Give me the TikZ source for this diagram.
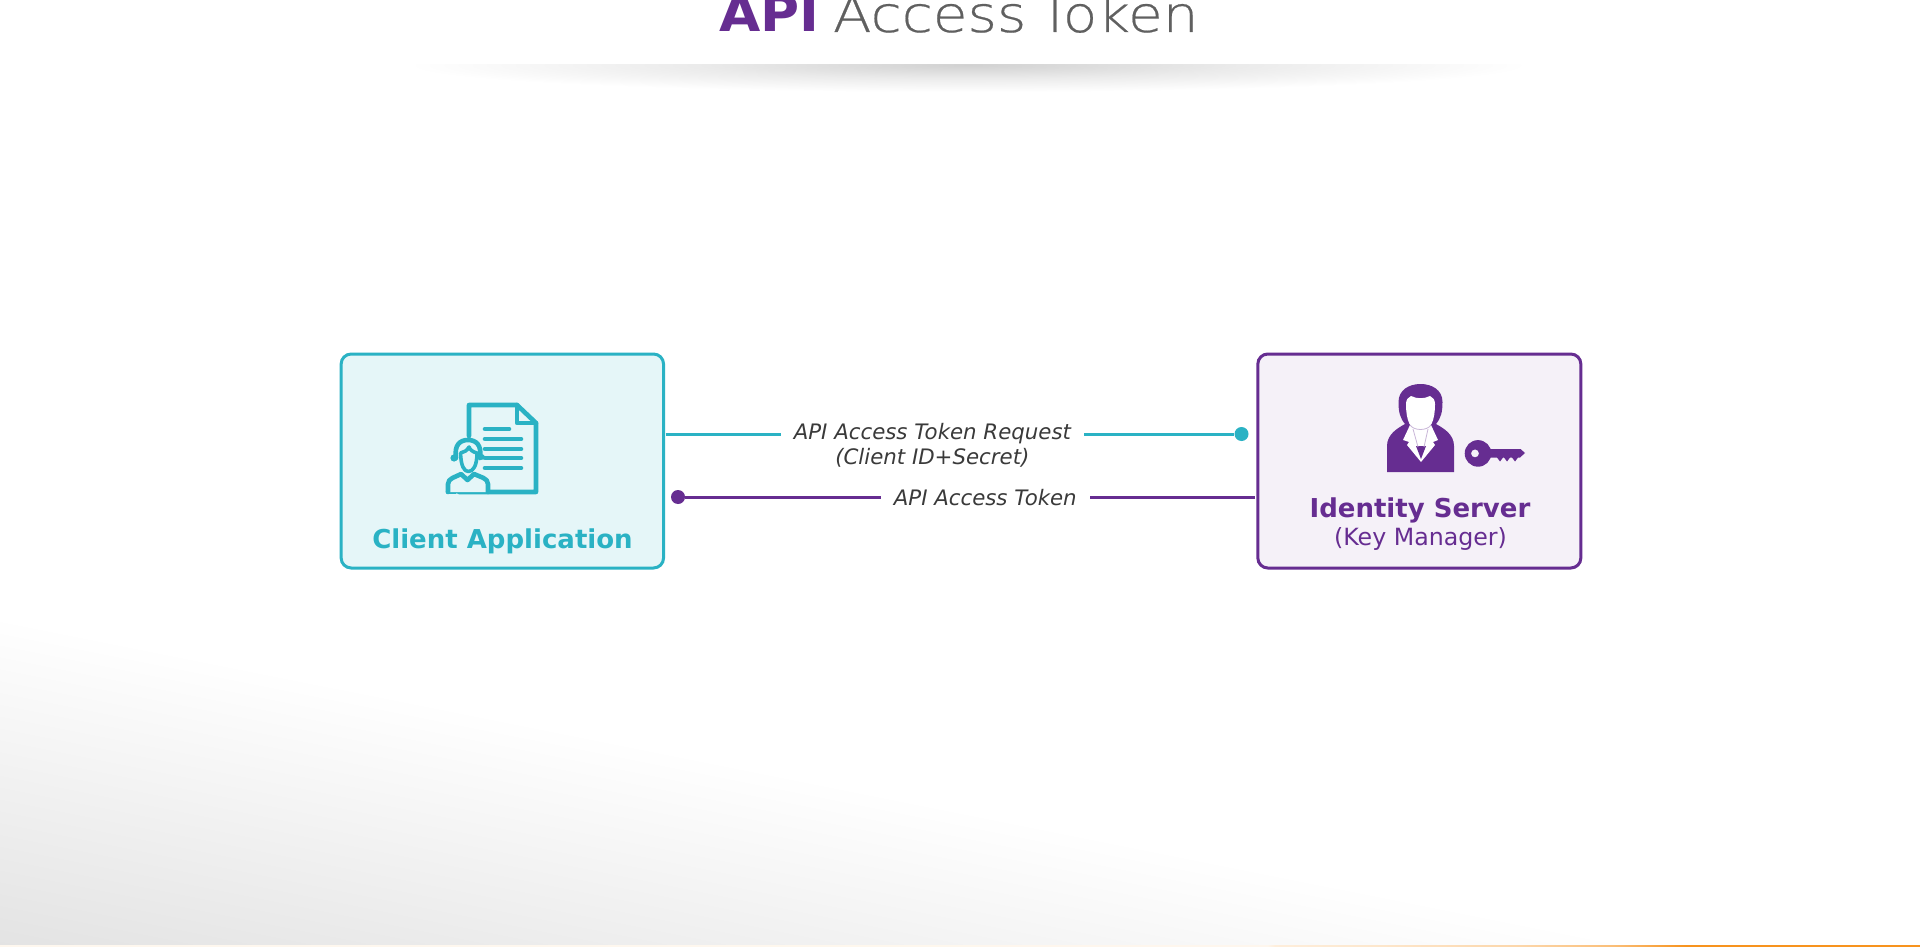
\documentclass[tikz,border=0pt]{standalone}
\usepackage{fontspec}
\setmainfont{DejaVu Sans}
\newfontfamily\titlefont[FakeStretch=1.067]{DejaVu Sans}
\newfontfamily\thinfont[FakeStretch=1.13,FakeBold=0.4]{DejaVu Sans ExtraLight}
\usetikzlibrary{matrix,positioning}
\definecolor{appteal}{HTML}{2AB2C4}
\definecolor{apppurple}{HTML}{662D91}
\definecolor{appink}{HTML}{3A3A3A}
\definecolor{appgray}{HTML}{606060}
\definecolor{appcorner}{HTML}{E3E3E3}
\definecolor{apporange}{HTML}{F7931E}
\pgfdeclareradialshading{titleshadow}{\pgfpoint{0bp}{0bp}}{
  color(0bp)=(black!18); color(12bp)=(black!8); color(25bp)=(white); color(100bp)=(white)}
\pgfdeclarehorizontalshading{footstrip}{100bp}{
  color(0bp)=(apporange!7); color(58bp)=(apporange!8); color(58.2bp)=(apporange!16);
  color(60.7bp)=(apporange!22); color(64.6bp)=(apporange!38); color(67bp)=(apporange!60);
  color(68.9bp)=(apporange); color(100bp)=(apporange)}
\tikzset{
  reqline/.style={appteal, line width=3pt, shorten <=2pt},
  tokline/.style={apppurple, line width=3pt, shorten >=3pt},
  flowdot/.style={circle, inner sep=0pt, minimum size=14pt},
  flowlabel/.style={fill=white, text=appink, inner xsep=13pt, inner ysep=0pt, align=center,
    font=\fontsize{21.3}{25}\selectfont\itshape},
  boxname/.style={inner sep=0pt, anchor=base, font=\fontsize{26}{30}\selectfont\bfseries},
  iconline/.style={appteal, line width=4.6pt, line cap=round, line join=round}
}
\begin{document}
\begin{tikzpicture}[x=1pt,y=-1pt]
\useasboundingbox (0,0) rectangle (1920,947);
\clip (0,0) rectangle (1920,947);
\fill[white] (0,0) rectangle (1920,947);
% grey corner and the orange foot line
\shade[bottom color=appcorner, top color=white, transform canvas={rotate around={-11.3:(0,947)}}]
  (-200,622) rectangle (2300,947);
\shade[shading=footstrip] (0,945.3) rectangle (1920,947);
% shadow under the title
\begin{scope}
  \clip (300,65) rectangle (1620,100);
  \shade[shading=titleshadow] (968,65) ellipse (560 and 27);
\end{scope}
\node[inner sep=0pt, anchor=base west, font=\fontsize{50}{60}\selectfont] (title) at (719,32)
  {\textcolor{apppurple}{\titlefont\bfseries API} \hspace{-2.4pt}\textcolor{appgray}{\thinfont Access\hspace{-6.5pt} Token}};
\matrix (m) [matrix of nodes,
    column sep=591.3pt,
    nodes={draw,
      line width=3pt,
      anchor=center,
      rounded corners=10pt,
      outer sep=0pt,
      minimum height=214pt
    },
    % one style for each party
    clientbox/.style={draw=appteal, fill=appteal!12, minimum width=322.4pt},
    serverbox/.style={draw=apppurple, fill=apppurple!6.5, minimum width=323pt}]
    at (961,461)
    {
      |(client) [clientbox]| {}
      & |(server) [serverbox]| {}
      \\
    };
\node[boxname, text=appteal] (clientname) at (502.5,548) {Client Application};
\node[boxname, text=apppurple] (servername) at (1420,517.7) {Identity Server};
\node[inner sep=0pt, anchor=base, text=apppurple, font=\fontsize{23.7}{27}\selectfont]
  (serverrole) at (1420.5,545.7) {(Key Manager)};
% connectors
\node[flowdot, fill=appteal] (reqdot) at (1241.5,434) {};
\node[flowdot, fill=apppurple] (tokdot) at (678,497) {};
\draw[reqline] (client.east |- reqdot) -- node[pos=0.471, flowlabel, yshift=-11pt]
  {API Access Token Request\\(Client ID+Secret)} (reqdot);
\draw[tokline] (tokdot) -- node[pos=0.524, flowlabel, yshift=-0.8pt] {API Access Token} (server.west |- tokdot);
% document with a person in front of it
\draw[iconline] (469,436) -- (469,405) -- (517,405) -- (536,423) -- (536,492) -- (459,492);
\draw[iconline] (517,405) -- (517,423) -- (536,423);
\draw[iconline] (448,492) -- (455,492);
\draw[iconline] (485,429) -- (509,429);
\foreach \liney in {439,449,458,468}
  \draw[iconline] (485,\liney) -- (521,\liney);
\draw[iconline, fill=appteal!12] (448,492) -- (448,484) .. controls (448,478) and (456,477) .. (461,474)
  -- (467.5,480) -- (474,474) .. controls (480,477) and (488,478) .. (488,484) -- (488,492);
\draw[iconline, fill=appteal!12] (456,458) .. controls (454,445) and (460,440) .. (468,440)
  .. controls (476,440) and (482,445) .. (480,458);
\draw[iconline, line width=3.6pt, fill=appteal!12] (460.5,453) .. controls (461,466) and (464,471.5) .. (468.5,471.5)
  .. controls (473,471.5) and (477,466) .. (477,453) .. controls (473,452) and (470,450) .. (469,447)
  .. controls (467,451) and (464,452) .. (460.5,453);
\fill[appteal] (454,458) circle (3.6) (482,457) circle (2.8);
% person with dark suit
\fill[apppurple] (1387,472) -- (1387,446) .. controls (1387,434) and (1398,428) .. (1405,424)
  .. controls (1400,418) and (1398.5,412) .. (1398.5,402) .. controls (1398.5,390) and (1409,384) .. (1420.5,384)
  .. controls (1432,384) and (1442.5,390) .. (1442.5,402) .. controls (1442.5,412) and (1441,418) .. (1436,424)
  .. controls (1443,428) and (1454,434) .. (1454,446) -- (1454,472) -- cycle;
\fill[white] (1420.5,431) .. controls (1410,431) and (1406,420) .. (1406,404)
  .. controls (1406,400) and (1408,397) .. (1411,396) .. controls (1417,399) and (1424,399) .. (1430,396)
  .. controls (1433,397) and (1435,400) .. (1435,404) .. controls (1435,420) and (1431,431) .. cycle;
\fill[white] (1410,425) -- (1420.5,431) -- (1431,425) -- (1438,440) -- (1433,442) -- (1435,445)
  -- (1421,462) -- (1407,445) -- (1409,442) -- (1403,440) -- cycle;
\fill[apppurple] (1416,446) -- (1426,446) -- (1421,459) -- cycle;
\draw[apppurple!35, line width=0.8pt] (1410,425) .. controls (1414,431) and (1427,431) .. (1431,425);
\draw[apppurple!35, line width=0.8pt] (1413,429) -- (1418,447) (1428,429) -- (1424,447);
% key
\fill[apppurple, even odd rule] (1478,453.4) circle (13.3) (1475,453.4) circle (4);
\fill[apppurple] (1487,449) -- (1520.5,449) -- (1525,453) -- (1520,457.5) -- (1518,457.5) -- (1515,461.5)
  -- (1512,457.5) -- (1510,457.5) -- (1507,461.5) -- (1504,457.5) -- (1503,457.5) -- (1500,461.5) -- (1497,457.5) -- (1487,457.5) -- cycle;
\end{tikzpicture}
\end{document}
